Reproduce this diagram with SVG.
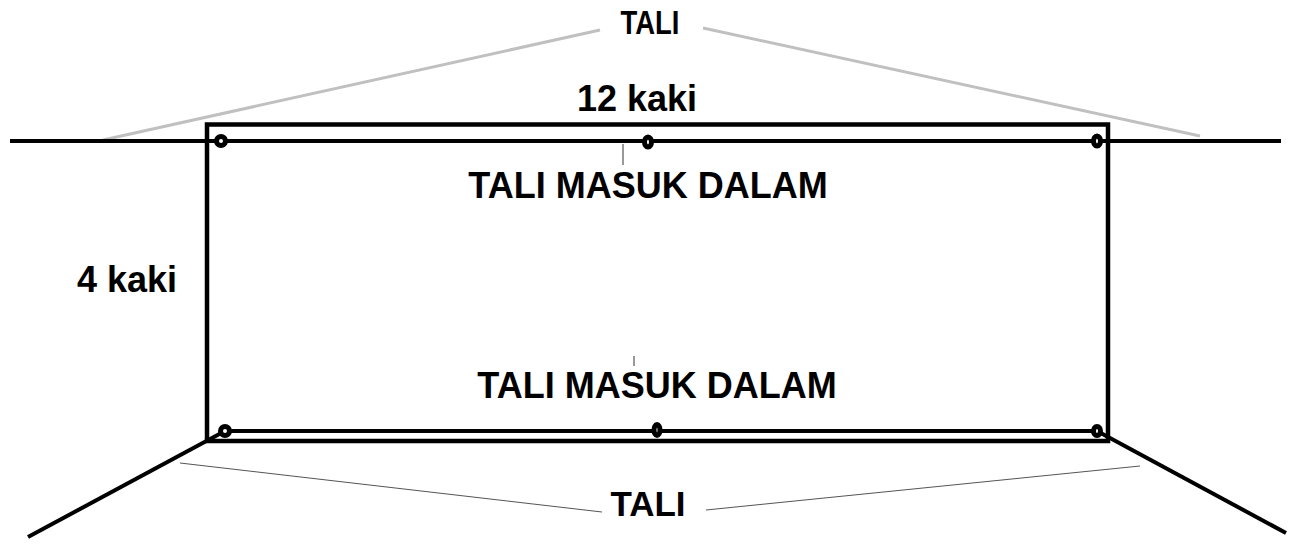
<svg xmlns="http://www.w3.org/2000/svg" width="1301" height="544" viewBox="0 0 1301 544">
<style>
.t{font-family:"Liberation Sans",Arial,sans-serif;font-weight:bold;fill:#000;text-anchor:middle}
.blk{stroke:#000;fill:none}
.grom{stroke:#000;stroke-width:5;fill:#fff}
</style>
<rect width="1301" height="544" fill="#fff"/>
<g id="connectors">
<line x1="103" y1="140" x2="600" y2="30" stroke="#c0c0c0" stroke-width="3"/>
<line x1="703" y1="28" x2="1200" y2="136" stroke="#c0c0c0" stroke-width="3"/>
<line x1="180" y1="463" x2="602" y2="512" stroke="#555" stroke-width="1"/>
<line x1="706" y1="510" x2="1140" y2="466" stroke="#555" stroke-width="1"/>
<line x1="623" y1="144" x2="623" y2="165" stroke="#777" stroke-width="1.5"/>
<line x1="634" y1="356" x2="634" y2="366" stroke="#777" stroke-width="1.5"/>
<line class="blk" x1="10" y1="141" x2="1281" y2="141" stroke-width="4"/>
<line class="blk" x1="225" y1="431" x2="1097" y2="431" stroke-width="4"/>
<line class="blk" x1="225" y1="431" x2="28" y2="537" stroke-width="4"/>
<line class="blk" x1="1097" y1="431" x2="1286" y2="533" stroke-width="4"/>
</g>
<g id="banner">
<rect class="blk" x="207" y="124.5" width="901" height="316.5" stroke-width="4.5"/>
</g>
<g id="grommets">
<circle class="grom" cx="221" cy="141" r="4.5"/>
<ellipse class="grom" cx="648" cy="142" rx="3.5" ry="5"/>
<ellipse class="grom" cx="1097" cy="141" rx="3.5" ry="5"/>
<circle class="grom" cx="225" cy="431" r="4.5"/>
<ellipse class="grom" cx="657" cy="430" rx="3" ry="5.5"/>
<ellipse class="grom" cx="1097" cy="431" rx="3.5" ry="4.5"/>
</g>
<g id="labels">
<text class="t" x="650" y="34" font-size="33" textLength="59" lengthAdjust="spacingAndGlyphs">TALI</text>
<text class="t" x="637" y="111" font-size="36">12 kaki</text>
<text class="t" x="648" y="198" font-size="36">TALI MASUK DALAM</text>
<text class="t" x="127" y="292" font-size="36">4 kaki</text>
<text class="t" x="657" y="398" font-size="36">TALI MASUK DALAM</text>
<text class="t" x="648" y="516" font-size="35">TALI</text>
</g>
</svg>
